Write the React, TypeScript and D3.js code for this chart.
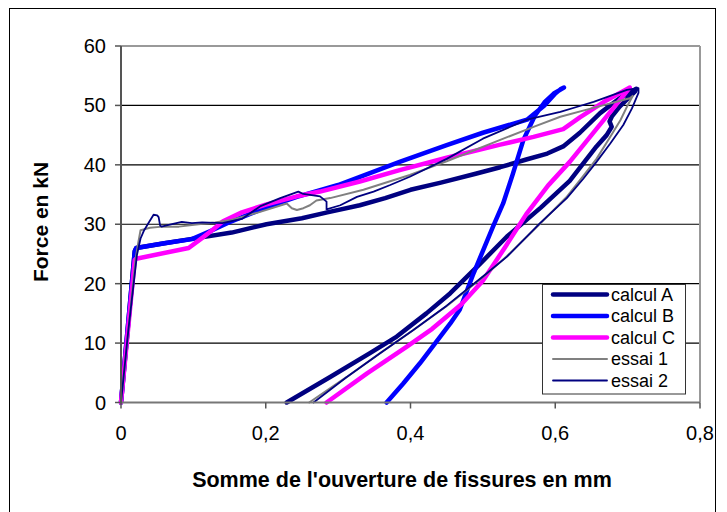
import React from "react";
import * as d3 from "d3";

type P = [number, number];

const xTicks = [0, 0.2, 0.4, 0.6, 0.8];
const yTicks = [0, 10, 20, 30, 40, 50, 60];
const xTitle = "Somme de l'ouverture de fissures en mm";
const yTitle = "Force en kN";

const calculA: P[] = [
  [0, 0], [0.019, 25.5], [0.021, 26], [0.06, 26.8], [0.096, 27.5], [0.153, 28.6], [0.201, 30],
  [0.25, 31], [0.285, 32], [0.33, 33.2], [0.365, 34.4], [0.4, 35.8], [0.442, 37], [0.49, 38.5],
  [0.524, 39.6], [0.56, 40.9], [0.589, 41.9], [0.611, 43.1], [0.634, 45.4], [0.662, 48.7],
  [0.689, 51.2], [0.712, 52.8],
  [0.71, 52.3], [0.689, 49.8], [0.678, 48.1], [0.675, 47.3], [0.678, 46.4], [0.671, 45],
  [0.657, 43.1], [0.639, 40.3], [0.62, 37.3], [0.58, 32.8], [0.533, 27.9], [0.495, 23.2],
  [0.455, 18.4], [0.422, 15], [0.381, 11.1], [0.344, 8.3], [0.289, 4.3], [0.229, 0],
];

const calculB: P[] = [
  [0, 0], [0.019, 25.4], [0.021, 26], [0.06, 26.8], [0.098, 27.5], [0.126, 29], [0.149, 30.3],
  [0.2, 32.8], [0.243, 34.6], [0.3, 36.6], [0.385, 40.5], [0.45, 43.3], [0.5, 45.4],
  [0.561, 47.6], [0.585, 50], [0.6, 52], [0.607, 52.7], [0.612, 53],
  [0.598, 52], [0.585, 50.5], [0.572, 48.3], [0.556, 44.2], [0.541, 38.3], [0.528, 33.5],
  [0.514, 29.6], [0.487, 21.7], [0.468, 15.6], [0.455, 13.3], [0.413, 6.6], [0.39, 3.2],
  [0.367, 0],
];

const calculC: P[] = [
  [0, 0], [0.019, 24], [0.021, 24.2], [0.0935, 26], [0.11, 27.5], [0.126, 29], [0.141, 30.5],
  [0.167, 32], [0.2, 33.3], [0.243, 34.7], [0.275, 35.5], [0.33, 37.2], [0.385, 39.1],
  [0.45, 41.2], [0.524, 43.4], [0.57, 44.7], [0.611, 46], [0.634, 48], [0.67, 50.8],
  [0.703, 53],
  [0.68, 49.5], [0.65, 45], [0.62, 40.5], [0.59, 36.5], [0.56, 31.7], [0.53, 26],
  [0.5, 20.5], [0.47, 16.5], [0.43, 12.4], [0.395, 9.4], [0.34, 4.9], [0.284, 0],
];

const essai1: P[] = [
  [0, 0], [0.01, 12], [0.02, 24], [0.024, 27], [0.027, 29], [0.04, 29.4], [0.057, 29.6],
  [0.08, 29.6], [0.107, 30], [0.13, 30.3], [0.151, 30.7], [0.19, 32], [0.229, 33.5],
  [0.236, 32.7], [0.243, 32.4], [0.252, 32.7], [0.261, 33.2], [0.27, 34], [0.289, 34.4],
  [0.335, 35.8], [0.399, 38.3], [0.45, 40.6], [0.524, 44.2], [0.57, 46.4], [0.607, 48.1],
  [0.65, 49.5], [0.703, 51.2], [0.707, 51.6],
  [0.7, 50], [0.69, 47.5], [0.675, 44.5], [0.657, 41], [0.638, 38], [0.615, 34.5],
  [0.58, 30.2], [0.533, 24.6], [0.5, 21.1], [0.452, 16.4], [0.404, 12.2], [0.358, 8.3],
  [0.312, 4.3], [0.26, 0],
];

const essai2: P[] = [
  [0, 0], [0.01, 12], [0.022, 24.8], [0.027, 27.6], [0.032, 29], [0.038, 30.2], [0.045, 31.6],
  [0.05, 31.5], [0.052, 31.2], [0.054, 29.8], [0.056, 29.6], [0.066, 29.9], [0.084, 30.4],
  [0.098, 30.2], [0.112, 30.3], [0.14, 30.2], [0.167, 30.9], [0.192, 33], [0.22, 34.4],
  [0.245, 35.5], [0.252, 35.1], [0.275, 34.7], [0.284, 33.8], [0.284, 32.5], [0.303, 33.2],
  [0.326, 34.6], [0.349, 35.5], [0.372, 36.6], [0.399, 38], [0.45, 41], [0.5, 44.4],
  [0.561, 47.6], [0.607, 48.9], [0.634, 49.9], [0.653, 50.6], [0.699, 52.6], [0.715, 52.9],
  [0.715, 52.1], [0.706, 49.5], [0.694, 46.7], [0.676, 43.6], [0.657, 40.5], [0.639, 37.7],
  [0.616, 34.4], [0.579, 30.2], [0.533, 24.5], [0.5, 21.2], [0.45, 16.3], [0.404, 12.2],
  [0.358, 8.3], [0.312, 4.3], [0.266, 0],
];

const seriesNames = ["calcul A", "calcul B", "calcul C", "essai 1", "essai 2"];
const seriesData = [calculA, calculB, calculC, essai1, essai2];
const seriesColors = ["#000080", "#0000FF", "#FF00FF", "#808080", "#000080"];
const seriesWidths = [4.5, 4.5, 4.5, 2, 1.8];

const FONT = "Arial, 'Liberation Sans', sans-serif";

export default function App() {
  const x = d3.scaleLinear().domain([0, 0.8]).range([121, 700]);
  const y = d3.scaleLinear().domain([0, 60]).range([402.5, 46]);
  const line = d3
    .line<P>()
    .x((d) => x(d[0]))
    .y((d) => y(d[1]));

  const legX = 542.5;
  const legY = 284.5;
  const legW = 143;
  const legH = 109.5;
  const rowH = 21.5;

  return (
    <svg
      width={727}
      height={512}
      style={{ position: "absolute", left: 0, top: 0, background: "#fff" }}
    >
      <rect x={0} y={0} width={727} height={512} fill="#fff" />
      <rect x={9.5} y={8.5} width={706} height={520} fill="none" stroke="#000" strokeWidth={1} />

      {yTicks
        .filter((t) => t > 0 && t < 60)
        .map((t) => (
          <line key={"g" + t} x1={x(0)} x2={x(0.8)} y1={y(t)} y2={y(t)} stroke="#000" strokeWidth={1.2} />
        ))}
      <line x1={x(0)} x2={x(0.8)} y1={y(60)} y2={y(60)} stroke="#999" strokeWidth={2} />
      <line x1={x(0.8)} x2={x(0.8)} y1={y(60)} y2={y(0)} stroke="#999" strokeWidth={2} />

      {seriesData.map((d, i) => (
        <path
          key={"s" + i}
          d={line(d) || ""}
          fill="none"
          stroke={seriesColors[i]}
          strokeWidth={seriesWidths[i]}
          strokeLinejoin="round"
          strokeLinecap="round"
        />
      ))}

      <line x1={x(0)} x2={x(0.8)} y1={y(0)} y2={y(0)} stroke="#777" strokeWidth={2} />
      <line x1={x(0)} x2={x(0)} y1={y(60)} y2={y(0) + 1} stroke="#555" strokeWidth={2} />
      {yTicks.map((t) => (
        <g key={"yt" + t}>
          <line x1={x(0) - 6} x2={x(0)} y1={y(t)} y2={y(t)} stroke="#555" strokeWidth={1.5} />
          <text
            x={106}
            y={y(t)}
            dy="0.35em"
            textAnchor="end"
            fontFamily={FONT}
            fontSize={20}
            fill="#000"
          >
            {String(t)}
          </text>
        </g>
      ))}
      {xTicks.map((t) => (
        <g key={"xt" + t}>
          <line x1={x(t)} x2={x(t)} y1={y(0)} y2={y(0) + 6} stroke="#555" strokeWidth={1.5} />
          <text
            x={x(t)}
            y={440}
            textAnchor="middle"
            fontFamily={FONT}
            fontSize={20}
            fill="#000"
          >
            {String(t).replace(".", ",")}
          </text>
        </g>
      ))}

      <text x={402} y={487} textAnchor="middle" fontFamily={FONT} fontSize={21.5} fontWeight="bold">
        {xTitle}
      </text>
      <text
        transform={`translate(48,222) rotate(-90)`}
        textAnchor="middle"
        fontFamily={FONT}
        fontSize={21}
        fontWeight="bold"
      >
        {yTitle}
      </text>

      <rect x={legX} y={legY} width={legW} height={legH} fill="#fff" stroke="#333" strokeWidth={1} />
      {seriesNames.map((n, i) => {
        const cy = legY + 10 + i * rowH;
        return (
          <g key={"l" + i}>
            <line
              x1={553}
              x2={607}
              y1={cy}
              y2={cy}
              stroke={seriesColors[i]}
              strokeWidth={seriesWidths[i]}
              strokeLinecap="round"
            />
            <text x={611} y={cy} dy="0.36em" fontFamily={FONT} fontSize={18} fill="#000">
              {n}
            </text>
          </g>
        );
      })}
    </svg>
  );
}
